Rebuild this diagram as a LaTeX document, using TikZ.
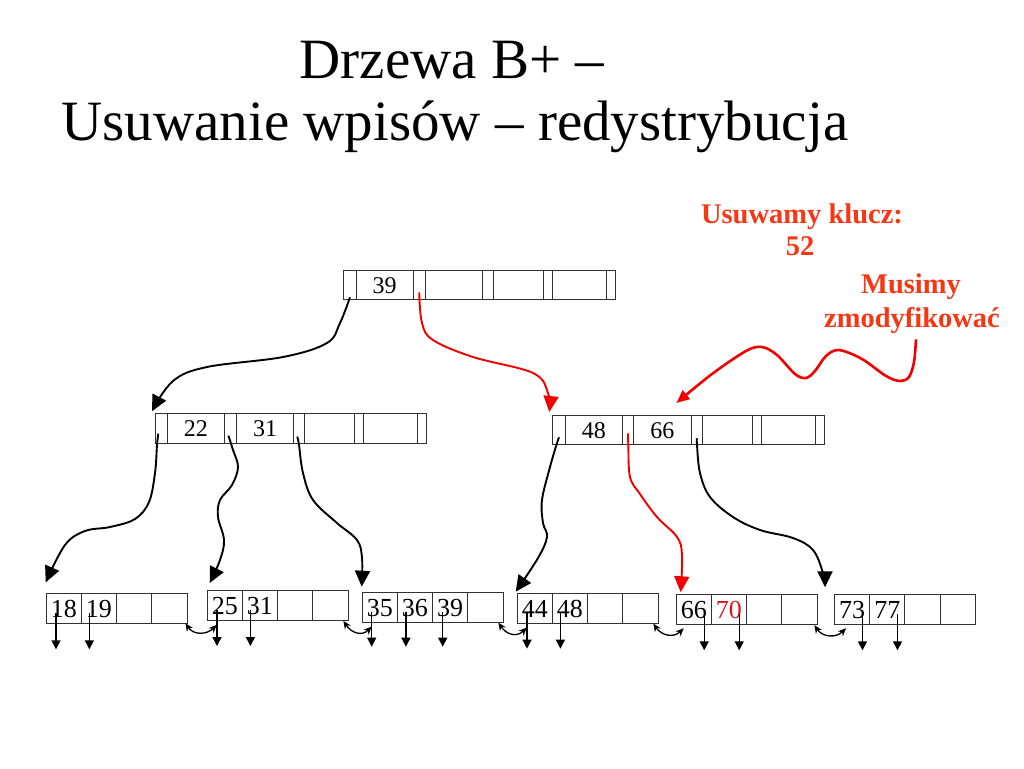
\documentclass[tikz,border=0pt]{standalone}
\usepackage{fontspec}
\setmainfont{Liberation Serif}
\usetikzlibrary{arrows.meta,calc}
\definecolor{hl}{RGB}{245,55,20}
\definecolor{keyred}{RGB}{215,25,30}
\definecolor{arrred}{RGB}{240,0,0}
\definecolor{boxc}{RGB}{50,50,50}
\tikzset{
  cell/.style={draw=boxc, line width=0.9pt, anchor=north west, inner sep=0pt,
    minimum height=29.4pt, text height=16.4pt, text depth=0pt, font=\fontsize{24}{24}\selectfont},
  lcell/.style={draw=boxc, line width=0.9pt, anchor=north west, inner sep=0pt,
    minimum width=35.2pt, minimum height=30pt, text height=17.8pt, text depth=0pt, font=\fontsize{26}{26}\selectfont},
  tree/.style={line width=1.9pt, -{Triangle[length=16pt,width=15pt]}},
  redtree/.style={tree, color=arrred},
  ptr/.style={line width=1.4pt, -{Triangle[length=9pt,width=9pt]}},
  sib/.style={line width=1.3pt, {Stealth[length=8pt,width=7pt]}-{Stealth[length=8pt,width=7pt]}},
  hltext/.style={text=hl, anchor=base, inner sep=0pt, font=\bfseries\fontsize{28.5}{28.5}\selectfont},
  titletext/.style={anchor=base, inner sep=0pt, font=\fontsize{57}{57}\selectfont},
  wavy/.style={color=arrred, line width=2.6pt, -{Triangle[length=13pt,width=11pt]}},
}
\newcommand{\leafrow}[7]{%
  \node[lcell] (#1c0) at (#2,#3) {#4};
  \node[lcell] (#1c1) at (#2+35.2,#3) {#5};
  \node[lcell] (#1c2) at (#2+70.4,#3) {#6};
  \node[lcell] (#1c3) at (#2+105.6,#3) {#7};
}
\begin{document}
\begin{tikzpicture}[x=1pt,y=-1pt]
\useasboundingbox (0,0) rectangle (1024,768);
\fill[white] (0,0) rectangle (1024,768);

% title
\node[titletext] (t1) at (452,78) {Drzewa B+ –};
\node[titletext] (t2) at (455,140) {Usuwanie wpisów – redystrybucja};

% annotations
\node[hltext] (del1) at (802,223) {Usuwamy klucz:};
\node[hltext] (del2) at (800,255) {52};
\node[hltext] (must1) at (911,293) {Musimy};
\node[hltext] (must2) at (912,327) {zmodyfikować};

% root
\node[cell, minimum width=13pt]   (r0) at (343,270) {};
\node[cell, minimum width=56.5pt] (r1) at (356,270) {39};
\node[cell, minimum width=12.5pt] (r2) at (412.5,270) {};
\node[cell, minimum width=56.7pt] (r3) at (425,270) {};
\node[cell, minimum width=11.6pt] (r4) at (481.7,270) {};
\node[cell, minimum width=49.4pt] (r5) at (493.3,270) {};
\node[cell, minimum width=9pt]    (r6) at (542.7,270) {};
\node[cell, minimum width=54.3pt] (r7) at (551.7,270) {};
\node[cell, minimum width=9pt]    (r8) at (606,270) {};

% left internal
\node[cell, minimum width=11.7pt] (a0) at (155,413.3) {};
\node[cell, minimum width=57.3pt] (a1) at (166.7,413.3) {22};
\node[cell, minimum width=12pt]   (a2) at (224,413.3) {};
\node[cell, minimum width=57.3pt] (a3) at (236,413.3) {31};
\node[cell, minimum width=11pt]   (a4) at (293.3,413.3) {};
\node[cell, minimum width=50pt]   (a5) at (304.3,413.3) {};
\node[cell, minimum width=9pt]    (a6) at (354.3,413.3) {};
\node[cell, minimum width=54pt]   (a7) at (363.3,413.3) {};
\node[cell, minimum width=8.7pt]  (a8) at (417.3,413.3) {};

% right internal
\node[cell, minimum width=12.7pt] (b0) at (552.3,415) {};
\node[cell, minimum width=56.7pt] (b1) at (565,415) {48};
\node[cell, minimum width=11.6pt] (b2) at (621.7,415) {};
\node[cell, minimum width=57.4pt] (b3) at (633.3,415) {66};
\node[cell, minimum width=11.6pt] (b4) at (690.7,415) {};
\node[cell, minimum width=49.4pt] (b5) at (702.3,415) {};
\node[cell, minimum width=9.3pt]  (b6) at (751.7,415) {};
\node[cell, minimum width=54pt]   (b7) at (761,415) {};
\node[cell, minimum width=9pt]    (b8) at (815,415) {};

% leaves
\leafrow{la}{45.7}{593.3}{18}{19}{}{}
\leafrow{lb}{206.7}{590}{25}{31}{}{}
\leafrow{lc}{361.7}{591.7}{35}{36}{39}{}
\leafrow{ld}{516.7}{592.7}{44}{48}{}{}
\leafrow{le}{675.7}{594.3}{66}{\textcolor{keyred}{70}}{}{}
\leafrow{lf}{834}{594.3}{73}{77}{}{}

% leaf record pointers
\foreach \c in {la,lb,ld}{
  \draw[ptr] ($(\c c0.north west)+(10.3,20)$) -- ++(0,36);
  \draw[ptr] ($(\c c1.north west)+(8.5,20)$) -- ++(0,36);
}
\draw[ptr] ($(lcc0.north west)+(10,20)$) -- ++(0,35);
\draw[ptr] ($(lcc1.north west)+(9,20)$) -- ++(0,35);
\draw[ptr] ($(lcc2.north west)+(10.6,20)$) -- ++(0,35);
\foreach \c in {le,lf}{
  \draw[ptr] ($(\c c0.north west)+(28.5,20)$) -- ++(0,36);
  \draw[ptr] ($(\c c1.north west)+(28.3,20)$) -- ++(0,36);
}

% sibling links
\draw[sib] ($(lac3.south east)+(-2,-1)$) .. controls +(8,12) and +(-10,10) .. ($(lbc0.south west)+(10,4)$);
\draw[sib] ($(lbc3.south east)+(-5,0)$) .. controls +(8,12) and +(-10,10) .. ($(lcc0.south west)+(10,4)$);
\draw[sib] ($(lcc3.south east)+(-5,0)$) .. controls +(8,12) and +(-10,10) .. ($(ldc0.south west)+(10,4)$);
\draw[sib] ($(ldc3.south east)+(-5,0)$) .. controls +(8,12) and +(-10,10) .. ($(lec0.south west)+(8,3)$);
\draw[sib] ($(lec3.south east)+(-3,0)$) .. controls +(8,12) and +(-10,10) .. ($(lfc0.south west)+(12,3)$);

% tree pointers
\coordinate (sA) at ($(r0.south)+(0,-3)$);
\coordinate (eA) at ($(a0.north west)+(-3,-2)$);
\draw[tree] plot[smooth, tension=0.6] coordinates {(sA) (340,323) (327,343) (283,357) (207,367) (173,381) (eA)};

\coordinate (sB) at ($(r2.south)+(0,-8)$);
\coordinate (eB) at ($(b0.north west)+(-3,-3)$);
\draw[redtree] plot[smooth, tension=0.6] coordinates {(sB) (422,323) (433,340) (473,357) (533,373) (548,393) (eB)};

\coordinate (sC) at ($(a0.south)+(-3,-10)$);
\coordinate (eC) at ($(lac0.north west)+(0,-11)$);
\draw[tree] plot[smooth, tension=0.6] coordinates {(sC) (157,445) (155,473) (149,502) (135,519) (110,527) (85,531) (65,545) (eC)};

\coordinate (sD) at ($(a2.south)+(-2,-8)$);
\coordinate (eD) at ($(lbc0.north west)+(3,-7)$);
\draw[tree] plot[smooth, tension=0.6] coordinates {(sD) (233,450) (238,467) (232,485) (220,500) (218,517) (224,540) (220,560) (eD)};

\coordinate (sE) at ($(a4.south)+(-2,-7)$);
\coordinate (eE) at ($(lcc0.north west)+(0,-5)$);
\draw[tree] plot[smooth, tension=0.6] coordinates {(sE) (299,445) (303,473) (313,500) (337,523) (357,540) (362,558) (eE)};

\coordinate (sF) at ($(b0.south)+(0,-8)$);
\coordinate (eF) at ($(ldc0.north west)+(-1,-1)$);
\draw[tree] plot[smooth, tension=0.6] coordinates {(sF) (556.7,444) (550,467) (542,500) (543,523) (547,537) (538,558) (eF)};

\coordinate (sG) at ($(b2.south)+(0,-12)$);
\coordinate (eG) at ($(lec0.north west)+(5,-2)$);
\draw[redtree] plot[smooth, tension=0.6] coordinates {(sG) (628.3,445) (630,477) (640,494) (657,517) (677,537) (682,555) (eG)};

\coordinate (sH) at ($(b4.south)+(0,-7)$);
\coordinate (eH) at ($(lfc0.north west)+(-9,-7)$);
\draw[tree] plot[smooth, tension=0.6] coordinates {(sH) (697,445) (700,473) (710,497) (733,517) (760,530) (793,538) (813,550) (823,573) (eH)};

% wavy annotation arrow
\coordinate (sW) at ($(must2.south)+(4,6)$);
\coordinate (eW) at ($(b3.north)+(14,-12)$);
\draw[wavy] plot[smooth, tension=0.55] coordinates {(sW) (914,362) (909,377) (900,381) (886,376) (862,359) (839,350) (826,356) (815,371) (806,378) (795,374) (777,355) (762,347) (746,351) (712,374) (eW)};
\end{tikzpicture}
\end{document}
